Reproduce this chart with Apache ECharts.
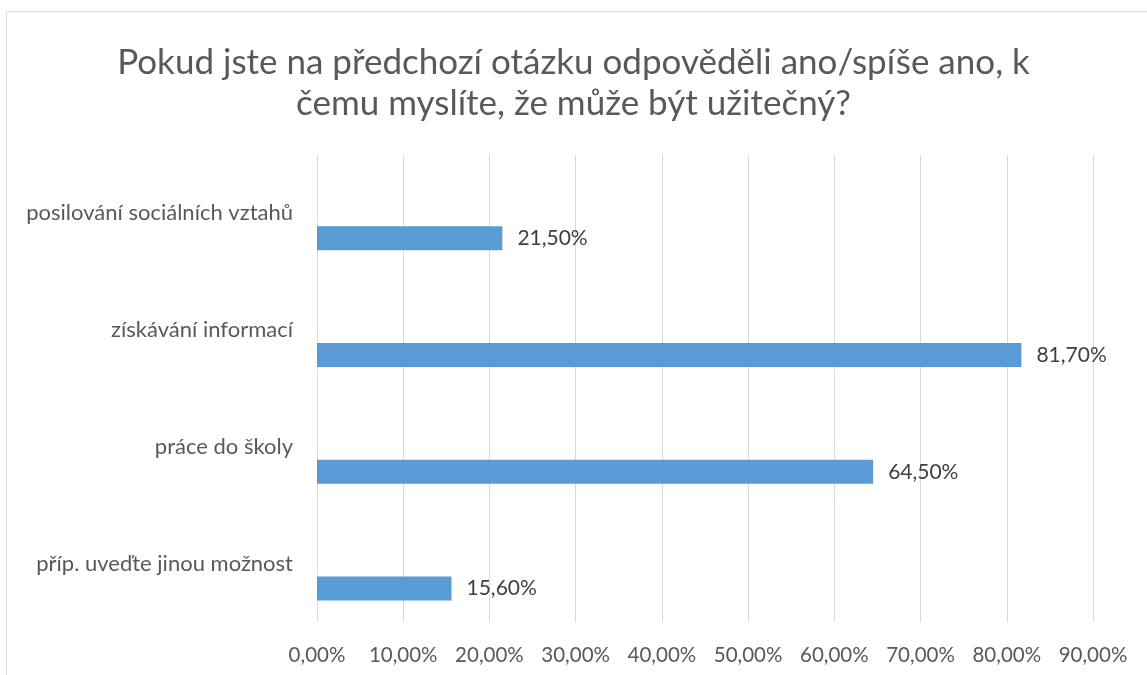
<!DOCTYPE html>
<html>
<head>
<meta charset="utf-8">
<script src="https://cdn.jsdelivr.net/npm/echarts@6/dist/echarts.min.js"></script>
<style>html,body{margin:0;padding:0;background:#fff}#c{width:1147px;height:675px}</style>
</head>
<body>
<div id="c"></div>
<script>
const titleLines = ['Pokud jste na předchozí otázku odpověděli ano/spíše ano, k', 'čemu myslíte, že může být užitečný?'];
const categories = ['posilování sociálních vztahů', 'získávání informací', 'práce do školy', 'příp. uveďte jinou možnost'];
const values = [21.5, 81.7, 64.5, 15.6];
const axisMax = 90;
const axisStep = 10;

const fmt = v => v.toFixed(2).replace('.', ',') + '%';
const FONT = 'Lato';
const chart = echarts.init(document.getElementById('c'));
chart.setOption({
  backgroundColor: '#fff',
  animation: false,
  textStyle: { fontFamily: FONT },
  title: {
    text: titleLines.join('\n'),
    left: 'center',
    top: 37,
    textStyle: { fontFamily: FONT, fontSize: 35, fontWeight: 'normal', color: '#595959', lineHeight: 41 }
  },
  graphic: [{
    type: 'polyline', silent: true,
    shape: { points: [[6.5, 700], [6.5, 11.5], [1160, 11.5]] },
    style: { stroke: '#d9d9d9', lineWidth: 1, fill: null }
  }],
  grid: { left: 317, right: 54, top: 155, bottom: 53, containLabel: false },
  xAxis: {
    type: 'value', min: 0, max: axisMax, interval: axisStep,
    axisLine: { show: false }, axisTick: { show: false },
    splitLine: { lineStyle: { color: '#d9d9d9', width: 1 } },
    axisLabel: { formatter: fmt, color: '#595959', fontSize: 20.5, margin: 23, fontFamily: FONT }
  },
  yAxis: {
    type: 'category', inverse: true, data: categories,
    axisLine: { show: false }, axisTick: { show: false },
    axisLabel: { color: '#595959', fontSize: 22, margin: 24, fontFamily: FONT }
  },
  series: [
    { type: 'bar', data: categories.map(() => null), barWidth: 24, silent: true },
    {
      type: 'bar', data: values, barWidth: 24, barGap: '108%',
      itemStyle: { color: '#5b9bd5' },
      label: { show: true, position: 'right', distance: 15, formatter: p => fmt(p.value), color: '#404040', fontSize: 21, fontFamily: FONT }
    }
  ]
});
</script>
</body>
</html>
